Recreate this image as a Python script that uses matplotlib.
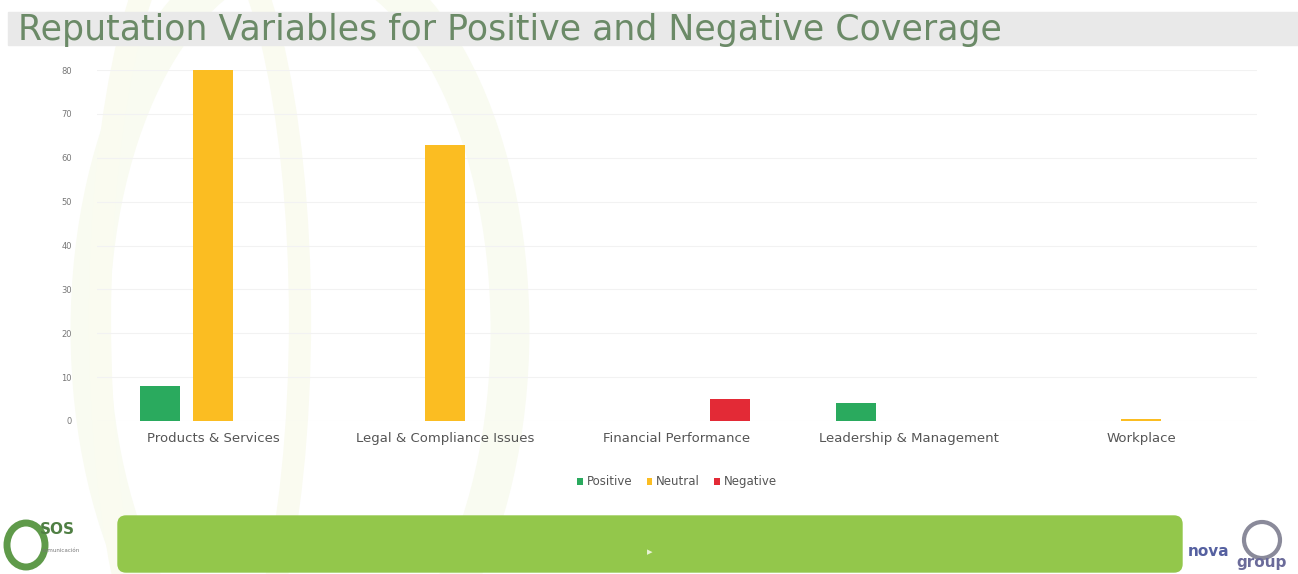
import numpy as np
import matplotlib.pyplot as plt
from matplotlib.patches import FancyBboxPatch, Rectangle, Ellipse

# data
categories = ['Products & Services', 'Legal & Compliance Issues', 'Financial Performance',
              'Leadership & Management', 'Workplace']
positive = [8, 0, 0, 4, 0]
neutral = [80, 63, 0, 0, 0.5]
negative = [0, 0, 5, 0, 0]
series_names = ['Positive', 'Neutral', 'Negative']
colors = ['#2aaa5e', '#fbbd22', '#e32a36']
yticks = [0, 10, 20, 30, 40, 50, 60, 70, 80]

fig = plt.figure(figsize=(12.98, 5.74), dpi=100)
W, H = 1298, 574

def fx(px):
    return px / W

def fy(py):
    return 1 - py / H

# faint decorative background curves
bg = fig.add_axes([0, 0, 1, 1])
bg.set_xlim(0, W)
bg.set_ylim(H, 0)
bg.axis('off')
bg.add_patch(Ellipse((300, 330), 420, 760, fill=False, lw=28, color='#f9fbf1', zorder=0))
bg.add_patch(Ellipse((200, 320), 200, 800, fill=False, lw=16, color='#fafbf0', zorder=0))
# title banner
bg.add_patch(Rectangle((8, 12), 1290, 33, color='#e9e9e9', zorder=1))
bg.text(18, 30, 'Reputation Variables for Positive and Negative Coverage',
        fontsize=25, color='#6b8a67', va='center', ha='left', zorder=2,
        family='DejaVu Sans')
# footer green band
bg.add_patch(FancyBboxPatch((118, 516), 1064, 56, boxstyle='round,pad=0,rounding_size=8',
                            color='#93c74b', zorder=1))
bg.text(650, 552, '\u25b8', color='#e8f3d6', fontsize=8, ha='center', va='center', zorder=2)
# logos (text stand-ins)
bg.add_patch(Ellipse((26, 545), 38, 44, fill=False, lw=5, color='#5f9a4a', zorder=2))
bg.text(40, 530, 'SOS', fontsize=11, fontweight='bold', color='#4f7f43', zorder=3, va='center')
bg.text(42, 550, 'comunicación', fontsize=4, color='#777777', zorder=3, va='center')
bg.text(1188, 552, 'nova', fontsize=11, fontweight='bold', color='#5560a0', zorder=3, va='center')
bg.text(1236, 563, 'group', fontsize=11, fontweight='bold', color='#6b6b9a', zorder=3, va='center')
bg.add_patch(Ellipse((1262, 540), 36, 36, fill=False, lw=3, color='#8a8a9a', zorder=2))

# chart
ax = fig.add_axes([fx(97), fy(421), fx(1257) - fx(97), fy(70) - fy(421)])
ax.patch.set_alpha(0)
x = np.arange(len(categories))
slot = 0.228
width = 0.172
for i, (vals, name, c) in enumerate(zip([positive, neutral, negative], series_names, colors)):
    ax.bar(x + (i - 1) * slot, vals, width=width, color=c, label=name, zorder=3)

ax.set_xlim(-0.5, 4.5)
ax.set_ylim(0, 80)
ax.set_yticks(yticks)
ax.set_yticklabels([str(t) for t in yticks], fontsize=6, color='#777777')
ax.set_xticks(x)
ax.set_xticklabels(categories, fontsize=9.5, color='#555555')
ax.tick_params(length=0)
ax.tick_params(axis='y', pad=18)
ax.tick_params(axis='x', pad=8)
ax.grid(axis='y', color='#f2f2f2', lw=0.8, zorder=0)
for s in ax.spines.values():
    s.set_visible(False)

leg = ax.legend(loc='upper center', bbox_to_anchor=(0.5, -0.125), ncol=3, frameon=False,
                fontsize=8.5, handlelength=0.5, handleheight=0.5, handletextpad=0.3,
                columnspacing=1.2, labelcolor='#555555')

fig.savefig('out.png', dpi=100)
